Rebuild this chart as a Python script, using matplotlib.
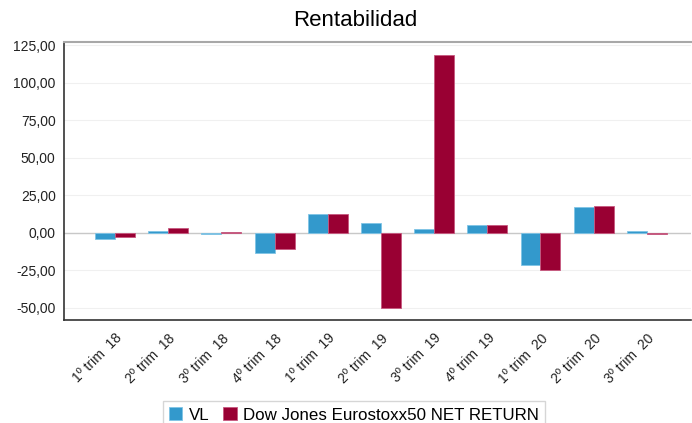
import matplotlib
matplotlib.use('Agg')
import matplotlib.pyplot as plt
import numpy as np

plt.rcParams['font.family'] = ['Liberation Sans', 'DejaVu Sans']

trimestres = ['1º trim  18', '2º trim  18', '3º trim  18', '4º trim  18',
              '1º trim  19', '2º trim  19', '3º trim  19', '4º trim  19',
              '1º trim  20', '2º trim  20', '3º trim  20']
vl = [-4.0, 1.5, -0.5, -13.3, 12.3, 6.4, 2.7, 5.5, -21.3, 17.3, 1.5]
eurostoxx = [-3.0, 3.0, 0.5, -11.0, 12.5, -49.7, 118.5, 5.5, -25.0, 17.7, -0.7]

c_vl = '#3399cc'
c_dj = '#990033'

fig = plt.figure(figsize=(6.92, 4.23), dpi=100)
ax = fig.add_axes([64 / 692, 1 - 320 / 423, 627 / 692, 278 / 423])

x = np.arange(len(trimestres))
w = 0.376
ax.bar(x - w / 2, vl, w, color=c_vl, edgecolor='#7fc4e6', linewidth=0.6, label='VL', zorder=3)
ax.bar(x + w / 2, eurostoxx, w, color=c_dj, edgecolor='#c7587f', linewidth=0.6,
       label='Dow Jones Eurostoxx50 NET RETURN', zorder=3)

ax.set_xlim(-0.96, 10.83)
ax.set_ylim(-58, 127)
ax.set_yticks(np.arange(-50, 126, 25))
ax.set_yticklabels([f'{v:.2f}'.replace('.', ',') for v in np.arange(-50, 126, 25)], fontsize=10)
ax.set_xticks(x)
ax.set_xticklabels(trimestres, rotation=45, ha='right', rotation_mode='anchor', fontsize=10)
ax.tick_params(axis='both', length=0, pad=6, colors='#222222')
ax.tick_params(axis='x', pad=8)

ax.grid(axis='y', color='#f0f0f0', linewidth=0.8, zorder=0)
ax.axhline(0, color='#c8c8c8', linewidth=1, zorder=2)

ax.spines['top'].set_color('#a8a8a8')
ax.spines['top'].set_linewidth(1.5)
ax.spines['right'].set_visible(False)
ax.spines['left'].set_color('#333333')
ax.spines['bottom'].set_color('#333333')
ax.spines['left'].set_linewidth(1.2)
ax.spines['bottom'].set_linewidth(1.2)

fig.text(355 / 692, 1 - 20 / 423, 'Rentabilidad', ha='center', va='center', fontsize=16)

leg = fig.legend(loc='center', bbox_to_anchor=(354 / 692, 1 - 415 / 423), ncol=2,
                 fontsize=12.2, frameon=True, fancybox=False, edgecolor='#cccccc',
                 handlelength=0.8, handleheight=0.8, handletextpad=0.4, columnspacing=0.8,
                 borderpad=0.35)
leg.get_frame().set_linewidth(1)

fig.savefig('out.png', dpi=100)
